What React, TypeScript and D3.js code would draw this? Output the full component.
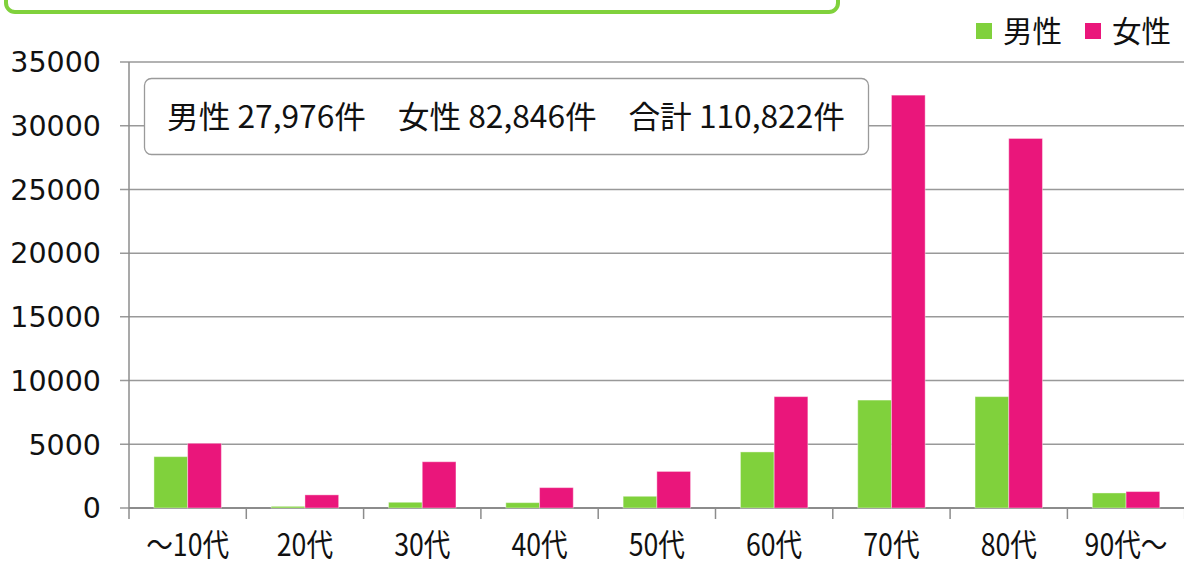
import React from "react";
import * as d3 from "d3";

const categories = ["～10代", "20代", "30代", "40代", "50代", "60代", "70代", "80代", "90代～"];
const series = ["男性", "女性"];
const maleValues = [4030, 130, 450, 420, 920, 4400, 8470, 8740, 1180];
const femaleValues = [5080, 1030, 3630, 1600, 2870, 8740, 32400, 29000, 1290];
const yTicks = [0, 5000, 10000, 15000, 20000, 25000, 30000, 35000];
const summaryText = "男性 27,976件　女性 82,846件　合計 110,822件";
const colors = ["#80D13C", "#EA167B"];

const W = 1184;
const H = 567;

export default function App() {
  const left = 129;
  const step = 117.3;
  const x = d3.scaleBand<string>().domain(categories).range([left, left + step * categories.length]).padding(0);
  const xs = d3.scaleBand<string>().domain(series).range([0, x.bandwidth()]).paddingInner(0).paddingOuter(0.74);
  const y = d3.scaleLinear().domain([0, 35000]).range([508, 62]);
  const values = [maleValues, femaleValues];
  const jp = "'Noto Sans CJK JP', 'Noto Sans', sans-serif";
  const boundaries = categories.map((c) => x(c) as number).concat([left + step * categories.length]);

  return (
    <div style={{ position: "absolute", left: 0, top: 0 }}>
      <svg width={W} height={H} style={{ display: "block", background: "#fff" }}>
        {/* top decorative box */}
        <rect x={6} y={-40} width={832} height={52} rx={9} ry={9} fill="none" stroke="#80D13C" strokeWidth={4} />

        {/* gridlines */}
        {yTicks.map((t) => (
          <line key={"g" + t} x1={120} x2={W} y1={y(t)} y2={y(t)} stroke="#999999" strokeWidth={1.5} />
        ))}
        {/* y axis */}
        <line x1={left} x2={left} y1={y(35000)} y2={y(0)} stroke="#8c8c8c" strokeWidth={1.5} />
        {yTicks.map((t) => (
          <text key={"yt" + t} x={101} y={y(t)} dy="0.36em" textAnchor="end" fontFamily="'DejaVu Sans', sans-serif" fontSize={28.5} fill="#111">
            {t}
          </text>
        ))}
        {/* x ticks */}
        {boundaries.map((b, i) => (
          <line key={"xt" + i} x1={b} x2={b} y1={y(0)} y2={y(0) + 11} stroke="#8c8c8c" strokeWidth={1.5} />
        ))}
        <line x1={left} x2={W} y1={y(0)} y2={y(0)} stroke="#8c8c8c" strokeWidth={2} />

        {/* bars */}
        {categories.map((c, i) => (
          <g key={c} transform={`translate(${x(c)},0)`}>
            {series.map((s, j) => (
              <rect
                key={s}
                x={xs(s)}
                width={xs.bandwidth()}
                y={y(values[j][i])}
                height={y(0) - y(values[j][i])}
                fill={colors[j]}
                stroke="#ffffff"
                strokeOpacity={0.4}
                strokeWidth={1}
              />
            ))}
          </g>
        ))}

        {/* x labels */}
        {categories.map((c) => {
          const cx = (x(c) as number) + x.bandwidth() / 2;
          return (
            <text key={"xl" + c} transform={`translate(${cx},556) scale(0.86,1)`} textAnchor="middle" fontFamily={jp} fontSize={31} fill="#111">
              {c}
            </text>
          );
        })}

        {/* summary box */}
        <rect x={144.5} y={78.5} width={724} height={76} rx={7} ry={7} fill="#fff" stroke="#9a9a9a" strokeWidth={1.3} />
        <text x={167} y={128} fontFamily={jp} fontSize={31} fill="#111" textLength={678} lengthAdjust="spacingAndGlyphs">
          {summaryText}
        </text>

        {/* legend */}
        {series.map((s, j) => {
          const lx = j === 0 ? 976 : 1085;
          return (
            <g key={"lg" + s}>
              <rect x={lx} y={23} width={16} height={16} fill={colors[j]} />
              <text x={lx + 27} y={42} fontFamily={jp} fontSize={29.5} fill="#111">
                {s}
              </text>
            </g>
          );
        })}
      </svg>
    </div>
  );
}
